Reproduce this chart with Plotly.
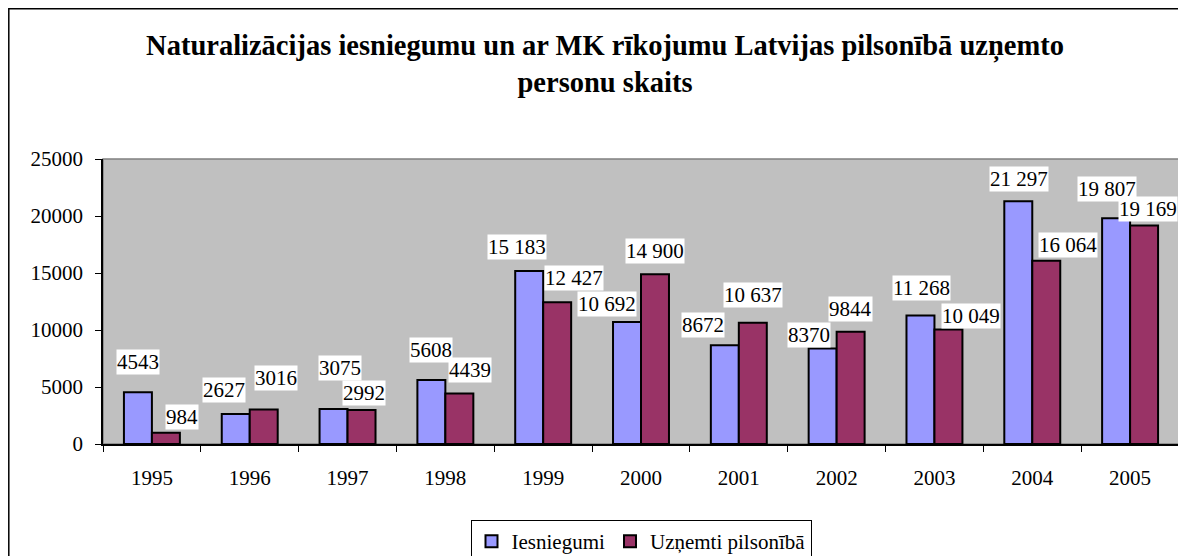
import plotly.graph_objects as go

years = ["1995", "1996", "1997", "1998", "1999", "2000", "2001", "2002", "2003", "2004", "2005"]
iesniegumi = [4543, 2627, 3075, 5608, 15183, 10692, 8672, 8370, 11268, 21297, 19807]
uznemti = [984, 3016, 2992, 4439, 12427, 14900, 10637, 9844, 10049, 16064, 19169]
series_names = ["Iesniegumi", "Uzņemti pilsonībā"]
title_text = "Naturalizācijas iesniegumu un ar MK rīkojumu Latvijas pilsonībā uzņemto<br>personu skaits"

# label placement tweaks (pixels): horizontal shift, gap above bar
lab_dx_a = [0.5, -11.5, 6, 0, -12, -20, -21.5, -13.5, 1, 1, -9.5]
lab_gap_a = [17, 11, 28, 17, 11, 5, 7, 1, 15, 9, 16]
lab_dx_b = [16, 12.5, 2, 11, 17, 0, 0.5, 0, 22.5, 21.5, 4]
lab_gap_b = [3, 19, 4, 10, 11, 10, 15, 10, 0, 3, 3]

# page has an 8px body margin; figure fills the rest of the window
W, H = 1178, 548
ML, MR, MT, MB = 95, 7, 151, 112
PW, PH = W - ML - MR, H - MT - MB
BARGAP = 0.428
FONT = "Liberation Serif"

fig = go.Figure()
fig.add_trace(go.Bar(x=years, y=iesniegumi, name=series_names[0],
                     marker=dict(color="#9999FF", line=dict(color="black", width=2))))
fig.add_trace(go.Bar(x=years, y=uznemti, name=series_names[1],
                     marker=dict(color="#993366", line=dict(color="black", width=2))))


def fmt(v):
    return f"{v:,}".replace(",", " ") if v >= 10000 else str(v)


cat_px = PW / len(years)
half = (1 - BARGAP) * cat_px / 4
anns = []
for i, yr in enumerate(years):
    for vals, dxs, gaps, sgn in ((iesniegumi, lab_dx_a, lab_gap_a, -1), (uznemti, lab_dx_b, lab_gap_b, 1)):
        anns.append(dict(x=i, y=vals[i], xref="x", yref="y", text=fmt(vals[i]),
                         showarrow=False, xanchor="center", yanchor="bottom",
                         xshift=sgn * half + dxs[i], yshift=gaps[i],
                         bgcolor="white", borderpad=0,
                         font=dict(family=FONT, size=21, color="black")))

shapes = [
    dict(type="rect", xref="paper", yref="paper", x0=0, x1=1, y0=0, y1=1,
         line=dict(color="#808080", width=1.5), layer="below"),
    dict(type="rect", xref="paper", yref="paper",
         x0=(0.8 - ML) / PW, x1=(W + 30 - ML) / PW,
         y0=(H - MB - (H + 30)) / PH, y1=(H - MB - 0.8) / PH,
         line=dict(color="black", width=1.5)),
]

fig.update_layout(
    width=W, height=H,
    margin=dict(l=ML, r=MR, t=MT, b=MB, pad=0, autoexpand=False),
    paper_bgcolor="white", plot_bgcolor="#C0C0C0",
    barmode="group", bargap=BARGAP, bargroupgap=0,
    font=dict(family=FONT, size=21, color="black"),
    title=dict(text=title_text, x=597 / W, xanchor="center", xref="container",
               y=1 - 47 / H, yanchor="middle", yref="container",
               font=dict(family=FONT, size=28.5, color="black", weight="bold")),
    legend=dict(orientation="h", x=0.5, xanchor="center", y=(H - MB - 512) / PH, yanchor="top",
                bordercolor="black", borderwidth=1, bgcolor="white",
                font=dict(family=FONT, size=21, color="black"),
                itemwidth=30, tracegroupgap=0),
    annotations=anns,
    shapes=shapes,
    showlegend=True,
)
fig.update_xaxes(type="category", range=[-0.5, len(years) - 0.5], autorange=False,
                 showline=True, linecolor="black", linewidth=1.5,
                 ticks="outside", ticklen=6, tickcolor="black", tickson="boundaries",
                 showgrid=False, ticklabelstandoff=14, tickangle=0,
                 tickfont=dict(family=FONT, size=21, color="black"))
fig.update_yaxes(range=[0, 25000], autorange=False, dtick=5000, tickformat="d", showline=True,
                 linecolor="black", linewidth=1.5, ticks="outside", ticklen=6,
                 tickcolor="black", showgrid=False, zeroline=False, ticklabelstandoff=8,
                 tickfont=dict(family=FONT, size=21, color="black"))

fig.write_html("out.html")
